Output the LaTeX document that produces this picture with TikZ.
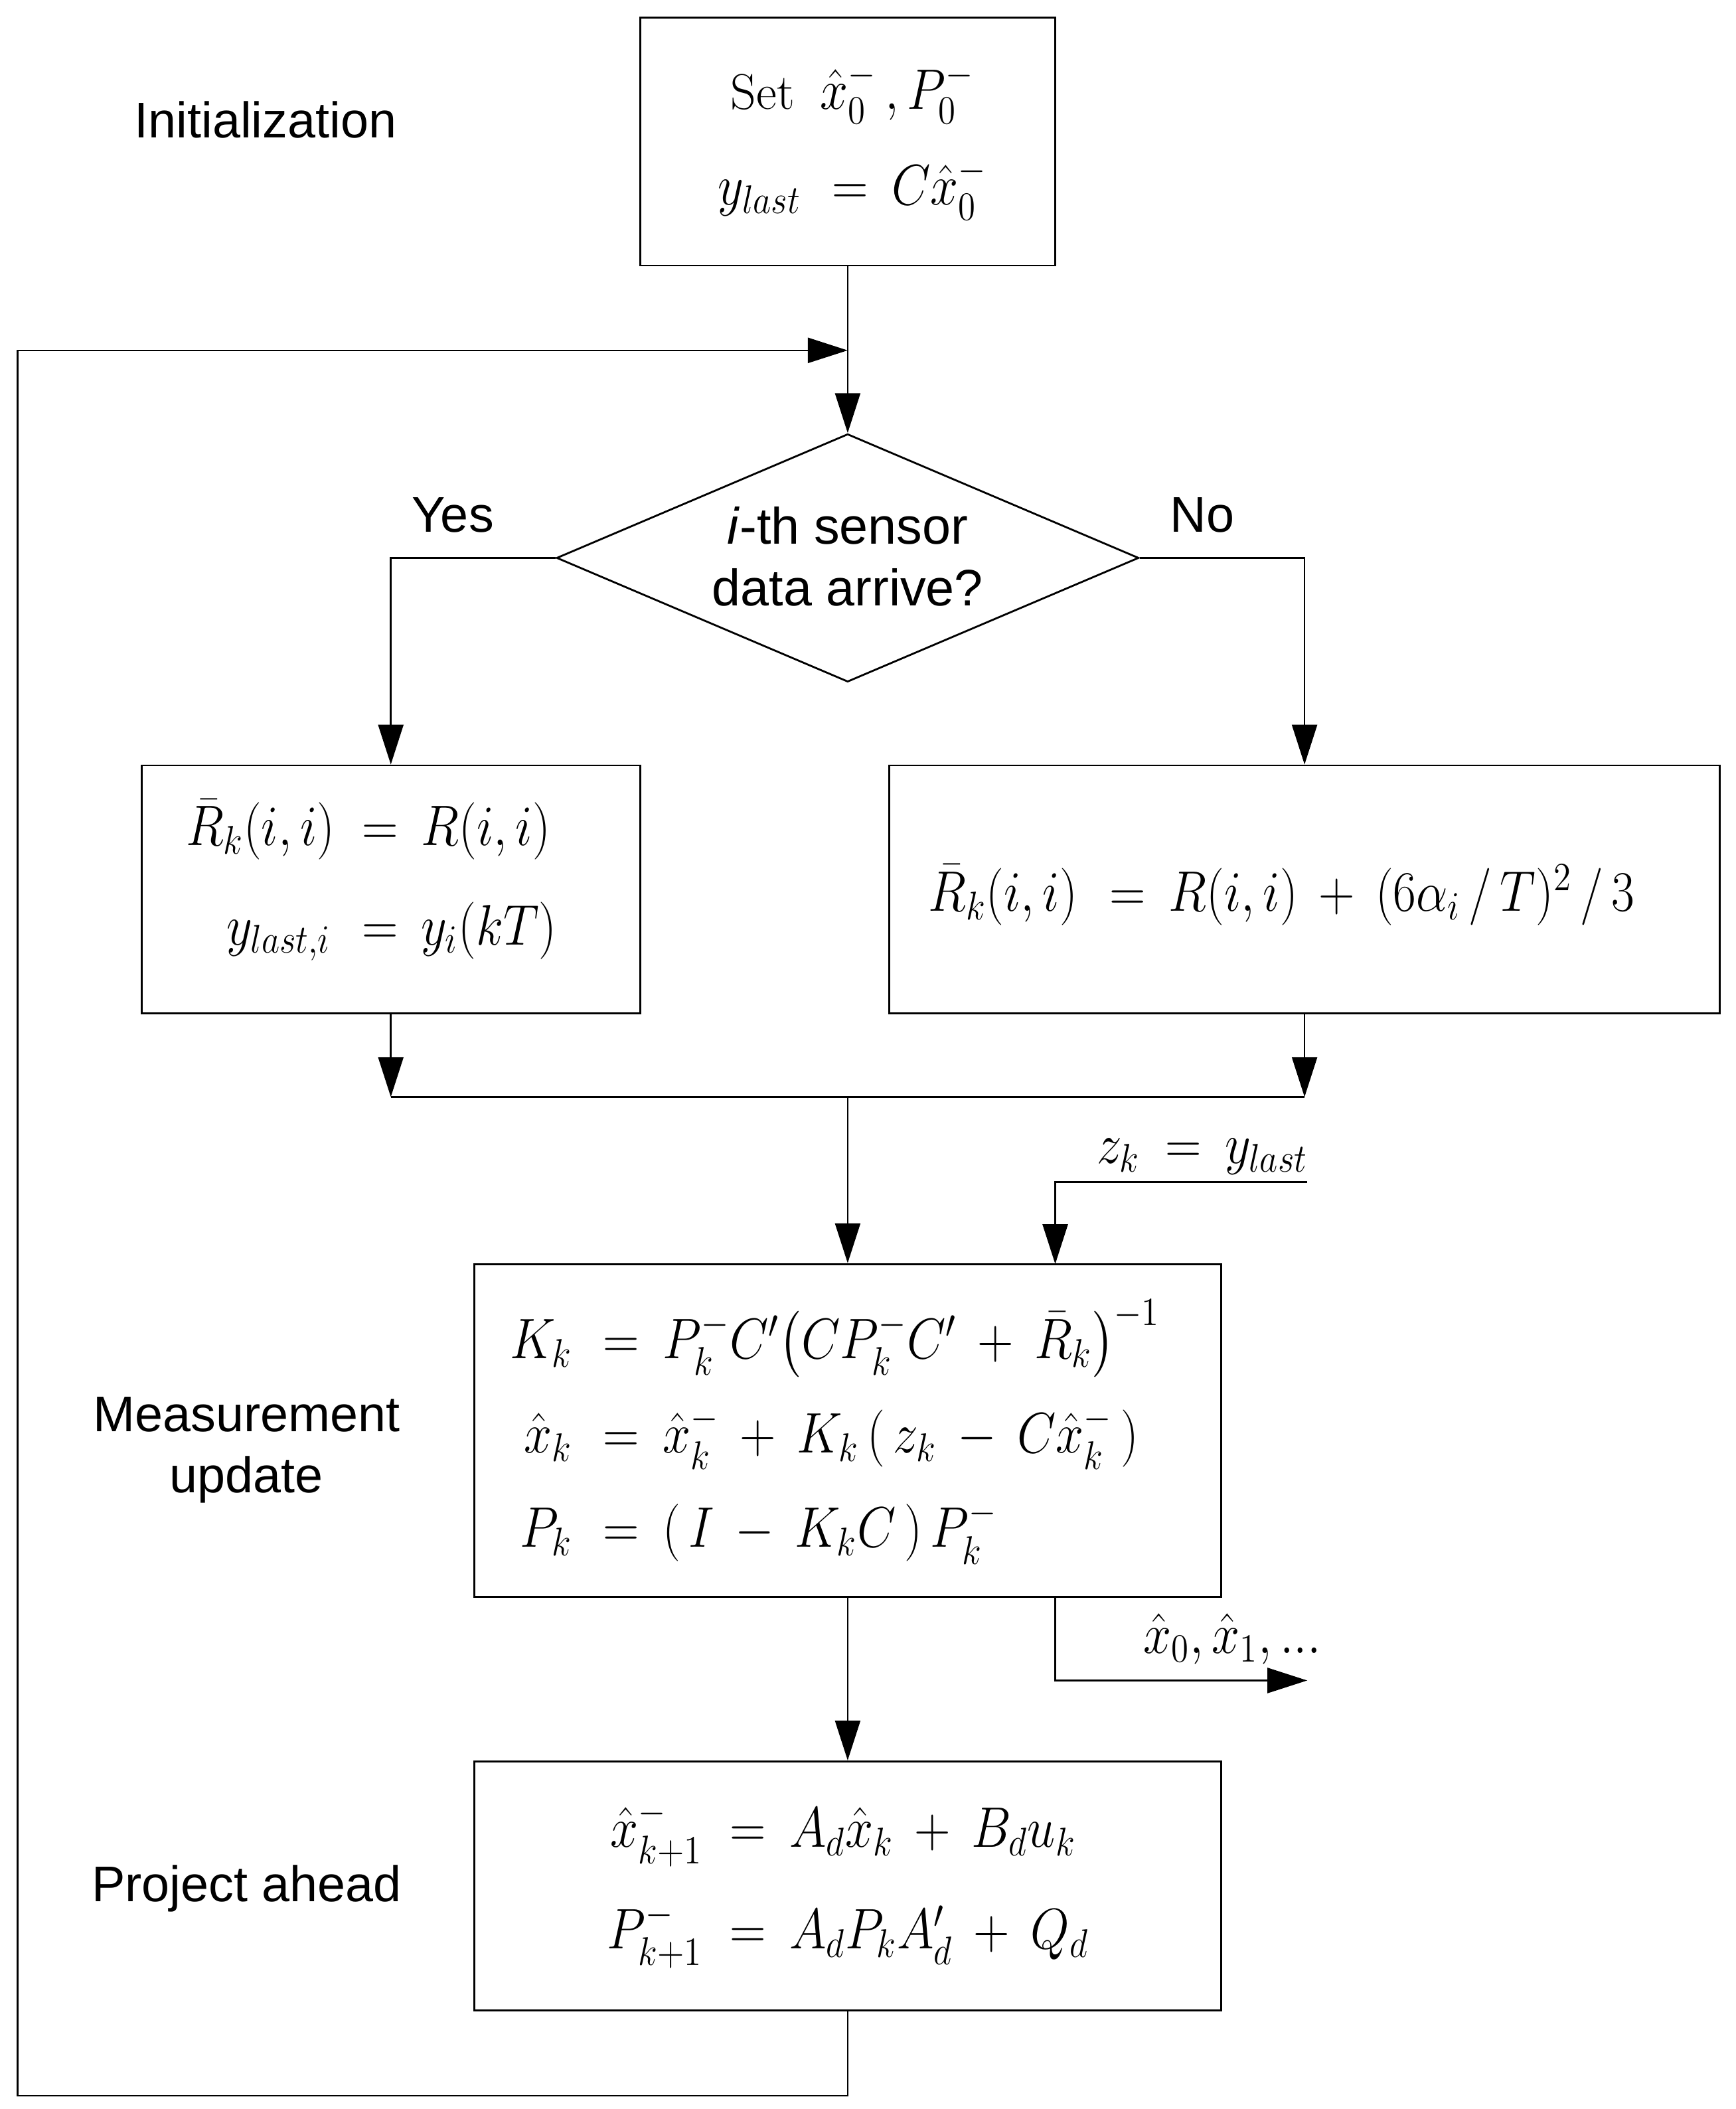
\RequirePackage{fix-cm}
\documentclass[tikz,border=0pt]{standalone}
\usepackage{amsmath}
\usepackage{graphicx}
\usepackage{fontspec}
\newfontfamily\arial{Liberation Sans}
\usetikzlibrary{arrows.meta,shapes.geometric,fit}
\newcommand{\EQ}[1]{\scalebox{1}[1.14]{$\medmuskip=7.5mu plus 2mu minus 2mu #1$}}
\begin{document}
\begin{tikzpicture}[x=0.203mm,y=-0.203mm,
  line width=0.7pt,
  arr/.style={-{Triangle[length=6mm,width=3.8mm]}},
  boxnode/.style={draw,line width=0.8pt,inner sep=0pt},
  lbl/.style={font=\arial\fontsize{21.5}{26}\selectfont, inner sep=0pt, align=center},
  eq/.style={font=\fontsize{21.5}{26}\selectfont, inner sep=0pt},
]
\useasboundingbox (0,0) rectangle (1287.7,1565);

% boxes
\node[boxnode, fit={(475,13) (783,197)}] (init) {};
\node[boxnode, fit={(105,568) (475,752)}] (lbox) {};
\node[boxnode, fit={(660,568) (1276,752)}] (rbox) {};
\node[boxnode, fit={(352,938) (906,1185)}] (meas) {};
\node[boxnode, fit={(352,1307) (906,1492)}] (proj) {};
\node[draw, diamond, line width=0.8pt, inner sep=0pt, aspect=2.35,
      minimum width=87.7mm, minimum height=37.35mm] (dec) at (629,414) {};

% side labels
\node[lbl, anchor=base] (tInit) at (197,102) {Initialization};
\node[lbl, anchor=base] (tYes) at (336,395) {Yes};
\node[lbl, anchor=base] (tNo) at (892,395) {No};
\node[lbl, font=\arial\fontsize{22}{26.5}\selectfont] (tDec) at (629,413) {\textit{i}-th sensor\\data arrive?};
\node[lbl] (tMeas) at (183,1076) {Measurement\\update};
\node[lbl, anchor=base] (tProj) at (183,1411) {Project ahead};

% init box equations
\node[eq, anchor=base] (e1) at (632.5,81) {Set\hspace{11pt}\EQ{\hat{x}_0^-\,,P_0^-}};
\node[eq, anchor=base east] (e2l) at (595,152) {\EQ{y_{last}}};
\node[eq, anchor=base west] (e2r) at (617,152) {\EQ{{=}\hspace{10pt}C\hat{x}_0^-}};

% left box
\node[eq, anchor=base east] (l1l) at (249,627.5) {\EQ{\bar{R}_k(i,i)}};
\node[eq, anchor=base west] (l1r) at (268,627.5) {\EQ{{=}\hspace{10pt}R(i,i)}};
\node[eq, anchor=base east] (l2l) at (246,701) {\EQ{y_{last,i}}};
\node[eq, anchor=base west] (l2r) at (268,701) {\EQ{{=}\hspace{10pt}y_i(kT)}};

% right box
\node[eq, anchor=base east] (r1l) at (800,676) {\EQ{\bar{R}_k(i,i)}};
\node[eq, anchor=base west] (r1r) at (822.6,676) {\EQ{{=}\hspace{10pt}R(i,i)+(6\alpha_i\,/\,T)^2\,/\,3}};

% measurement update
\node[eq, anchor=base east] (m1l) at (425,1008) {\EQ{K_k}};
\node[eq, anchor=base west] (m1r) at (447,1008) {\EQ{{=}\hspace{10pt}P_k^-C'\bigl(CP_k^-C'+\bar{R}_k\bigr)^{-1}}};
\node[eq, anchor=base east] (m2l) at (425,1078) {\EQ{\hat{x}_k}};
\node[eq, anchor=base west] (m2r) at (447,1078) {\EQ{{=}\hspace{10pt}\hat{x}_k^-+K_k\,(\,z_k-C\hat{x}_k^-\,)}};
\node[eq, anchor=base east] (m3l) at (425,1148) {\EQ{P_k}};
\node[eq, anchor=base west] (m3r) at (447,1148) {\EQ{{=}\hspace{10pt}(\,I-K_kC\,)\,P_k^-}};

% project ahead
\node[eq, anchor=base east] (p1l) at (522,1370.5) {\EQ{\hat{x}_{k+1}^-}};
\node[eq, anchor=base west] (p1r) at (541,1370.5) {\EQ{{=}\hspace{10pt}A_d\hat{x}_k+B_du_k}};
\node[eq, anchor=base east] (p2l) at (522,1446) {\EQ{P_{k+1}^-}};
\node[eq, anchor=base west] (p2r) at (541,1446) {\EQ{{=}\hspace{10pt}A_dP_kA_d'+Q_d}};

% connector labels
\node[eq, anchor=base east] (zlab) at (971,863.5) {\EQ{z_k\hspace{11pt}{=}\hspace{10pt}y_{last}}};
\node[eq, anchor=base west] (olab) at (848,1227) {\EQ{\hat{x}_0,\hat{x}_1,...}};

% connectors
\coordinate (J1) at (629,260);
\coordinate (LB) at (13,1555);
\coordinate (ML) at (290,814);
\coordinate (MR) at (968,814);
\coordinate (MM) at (629,814);
\coordinate (zin) at (970,877);
\coordinate (zend) at (783,938);
\coordinate (oS) at (783,1185);
\coordinate (oE) at (970,1247);

\draw[arr] (init.south) -- (dec.north);
\draw[arr] (proj.south) |- (LB) |- (J1);
\draw[arr] (dec.west) -| (lbox.north);
\draw[arr] (dec.east) -| (rbox.north);
\draw[arr] (lbox.south) -- (ML);
\draw[arr] (rbox.south) -- (MR);
\draw (ML) -- (MR);
\draw[arr] (MM) -- (meas.north);
\draw[arr] (zin) -| (zend);
\draw[arr] (oS) |- (oE);
\draw[arr] (meas.south) -- (proj.north);
\end{tikzpicture}
\end{document}
